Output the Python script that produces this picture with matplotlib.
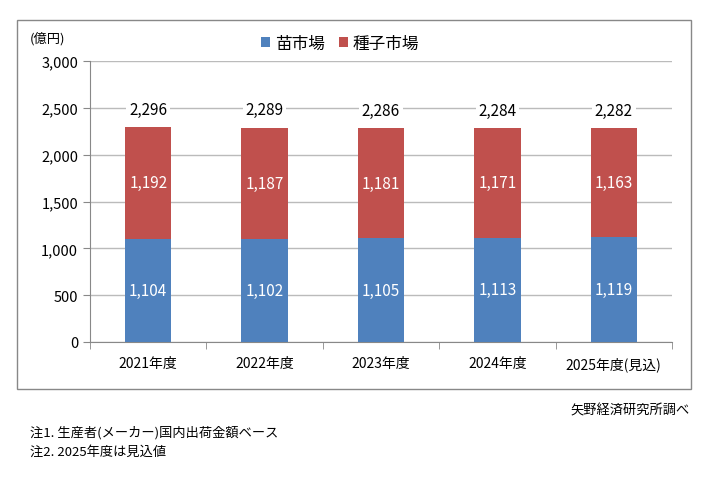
import numpy as np
import matplotlib.pyplot as plt
from matplotlib.patches import Rectangle

plt.rcParams['font.family'] = ['Noto Sans CJK JP', 'DejaVu Sans']

# データ
years = ["2021年度", "2022年度", "2023年度", "2024年度", "2025年度(見込)"]
nae = [1104, 1102, 1105, 1113, 1119]      # 苗市場
shushi = [1192, 1187, 1181, 1171, 1163]   # 種子市場
totals = [2296, 2289, 2286, 2284, 2282]

blue = "#4F81BD"
red = "#C0504D"

fig = plt.figure(figsize=(7.23, 4.81), dpi=100)
ax = fig.add_axes([90 / 723, 1 - 343 / 481, 582 / 723, 281 / 481])

x = np.arange(len(years))
w = 0.4
ax.bar(x, nae, w, color=blue, label="苗市場", zorder=3)
ax.bar(x, shushi, w, bottom=nae, color=red, label="種子市場", zorder=3)

for i in range(len(x)):
    ax.text(x[i], nae[i] / 2, f"{nae[i]:,}", ha="center", va="center",
            color="white", fontsize=11, zorder=4)
    ax.text(x[i], nae[i] + shushi[i] / 2, f"{shushi[i]:,}", ha="center",
            va="center", color="white", fontsize=11, zorder=4)
    ax.text(x[i], totals[i] + 190, f"{totals[i]:,}", ha="center",
            va="center", color="black", fontsize=11, zorder=4,
            bbox=dict(facecolor="white", edgecolor="none", pad=2))

ax.set_ylim(0, 3000)
ax.set_xlim(-0.5, len(x) - 0.5)
ax.set_yticks(np.arange(0, 3001, 500))
ax.set_yticklabels([f"{v:,}" for v in range(0, 3001, 500)], fontsize=10.5)
ax.yaxis.grid(True, color="#BBBBBB", linewidth=1, zorder=0)

ax.set_xticks(x)
ax.set_xticklabels(years, fontsize=10)
ax.tick_params(axis="x", length=0, pad=10)
ax.set_xticks(np.arange(-0.5, len(x)), minor=True)
ax.tick_params(axis="x", which="minor", length=5, color="#888888")
ax.tick_params(axis="y", length=5, color="#888888")

for s in ["top", "right"]:
    ax.spines[s].set_visible(False)
for s in ["left", "bottom"]:
    ax.spines[s].set_color("#888888")

ax.legend(loc="center", bbox_to_anchor=(0.43, 1.062), ncol=2,
          frameon=False, fontsize=12, handlelength=0.55, handleheight=0.55,
          columnspacing=0.8, handletextpad=0.3)

fig.text(30 / 723, 1 - 39 / 481, "(億円)", fontsize=9.5, va="center")

# 外枠
fig.patches.append(Rectangle((17 / 723, 1 - 390 / 481), 674 / 723, 369 / 481,
                             transform=fig.transFigure, fill=False,
                             edgecolor="#888888", linewidth=1))

fig.text(690 / 723, 1 - 411 / 481, "矢野経済研究所調べ", fontsize=9.5,
         ha="right", va="center")
fig.text(30 / 723, 1 - 433 / 481, "注1. 生産者(メーカー)国内出荷金額ベース",
         fontsize=9.5, va="center")
fig.text(30 / 723, 1 - 452 / 481, "注2. 2025年度は見込値", fontsize=9.5,
         va="center")

fig.savefig("out.png", dpi=100)
